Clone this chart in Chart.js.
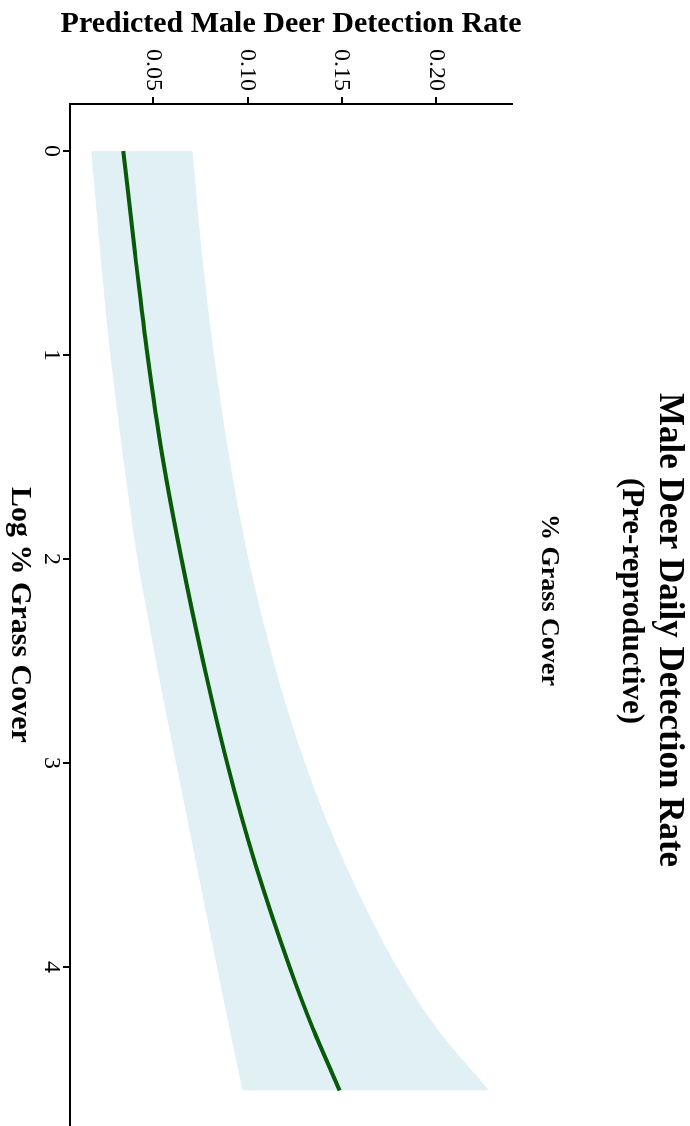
<!DOCTYPE html>
<html>
<head>
<meta charset="utf-8">
<script src="https://cdn.jsdelivr.net/npm/chart.js@4.4.1/dist/chart.umd.min.js"></script>
<style>
  html, body { margin: 0; padding: 0; background: #fff; overflow: hidden; }
  /* the chart is drawn landscape, then turned a quarter clockwise */
  #rot { position: absolute; left: 0; top: 0; width: 1126px; height: 690px;
         transform-origin: 0 0; transform: translate(690px, 0) rotate(90deg); }
</style>
</head>
<body>
<div id="rot"><canvas id="c" width="1126" height="690"></canvas></div>
<script>
// log % grass cover
const logGrass = [0, 0.5, 1, 1.5, 2, 2.5, 3, 3.5, 4, 4.3, 4.605];
// predicted rate and confidence band
const fitted = [0.0340, 0.0402, 0.0468, 0.0548, 0.0649, 0.0763, 0.0891, 0.1043, 0.1223, 0.1346, 0.1489];
const lower  = [0.0170, 0.0218, 0.0271, 0.0338, 0.0415, 0.0513, 0.0620, 0.0729, 0.0838, 0.0904, 0.0973];
const upper  = [0.0707, 0.0757, 0.0821, 0.0902, 0.1005, 0.1137, 0.1305, 0.1520, 0.1793, 0.2005, 0.2282];

const xTicks = [0, 1, 2, 3, 4];
const yTicks = [0.05, 0.10, 0.15, 0.20];

const titleLines = ['Male Deer Daily Detection Rate', '(Pre-reproductive)'];
const subTitle = '% Grass Cover';
const xTitle = 'Log % Grass Cover';
const yTitle = 'Predicted Male Deer Detection Rate';

const SERIF = '"Liberation Serif", "Times New Roman", serif';

const pts = ys => logGrass.map((x, i) => ({ x: x, y: ys[i] }));

// title block, placed like the R plot
const titles = {
  id: 'titles',
  afterDraw(chart) {
    const ctx = chart.ctx;
    ctx.save();
    ctx.fillStyle = '#000';
    ctx.textAlign = 'center';
    ctx.textBaseline = 'alphabetic';
    ctx.font = 'bold 35px ' + SERIF;
    ctx.fillText(titleLines[0], 630, 30);
    ctx.font = 'bold 31px ' + SERIF;
    ctx.fillText(titleLines[1], 601, 67);
    ctx.font = 'bold 26px ' + SERIF;
    ctx.fillText(subTitle, 600, 148);
    ctx.restore();
  }
};

const axisStyle = {
  grid: { display: true, drawOnChartArea: false, drawTicks: true, tickLength: 7,
          color: '#000', lineWidth: 2 },
  border: { display: true, color: '#000', width: 2 }
};

new Chart(document.getElementById('c'), {
  type: 'line',
  data: {
    // first dataset is drawn last, so the fitted line sits on the band
    datasets: [
      { data: pts(fitted), borderColor: '#085a08', borderWidth: 4, pointRadius: 0,
        fill: false, cubicInterpolationMode: 'monotone' },
      { data: pts(lower), borderColor: 'rgba(0,0,0,0)', borderWidth: 0, pointRadius: 0,
        fill: false, cubicInterpolationMode: 'monotone' },
      { data: pts(upper), borderColor: 'rgba(0,0,0,0)', borderWidth: 0, pointRadius: 0,
        fill: '-1', backgroundColor: '#e1f0f5', cubicInterpolationMode: 'monotone' }
    ]
  },
  options: {
    responsive: false,
    animation: false,
    devicePixelRatio: 1,
    layout: { padding: { top: 178, right: 0, bottom: 0, left: 0 } },
    plugins: { legend: { display: false }, tooltip: { enabled: false } },
    scales: {
      x: {
        type: 'linear',
        min: -0.2304,
        max: 4.779,
        ...axisStyle,
        afterBuildTicks: s => { s.ticks = xTicks.map(v => ({ value: v })); },
        afterFit: s => { s.height = 70; },
        ticks: { color: '#000', padding: -3, font: { family: SERIF, size: 24 },
                 callback: v => String(v) },
        title: { display: true, text: xTitle, color: '#000', padding: { top: 0, bottom: 2 },
                 font: { family: SERIF, size: 30, weight: 'bold' } }
      },
      y: {
        type: 'linear',
        min: 0.0057,
        max: 0.2404,
        ...axisStyle,
        afterBuildTicks: s => { s.ticks = yTicks.map(v => ({ value: v })); },
        afterFit: s => { s.width = 104; },
        ticks: { color: '#000', padding: 6, font: { family: SERIF, size: 24 },
                 callback: v => v.toFixed(2) },
        title: { display: true, text: yTitle, color: '#000', padding: { top: 6, bottom: 0 },
                 font: { family: SERIF, size: 30, weight: 'bold' } }
      }
    }
  },
  plugins: [titles]
});
</script>
</body>
</html>
